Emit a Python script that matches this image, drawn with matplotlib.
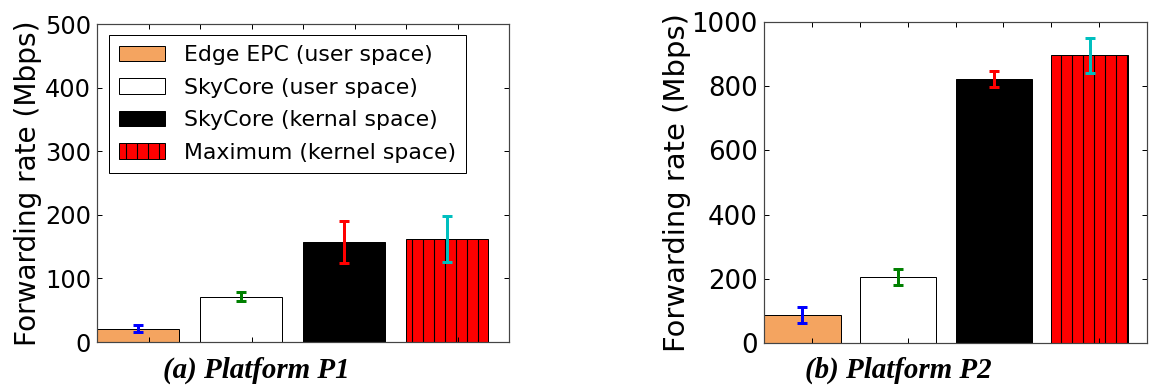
# 라이브러리 및 그래프 환경 설정
import matplotlib
matplotlib.use('Agg')
import matplotlib.pyplot as plt

plt.rcParams['font.family'] = ['DejaVu Sans']
plt.rcParams['hatch.linewidth'] = 1.2

# 데이터 준비
labels = ['Edge EPC (user space)', 'SkyCore (user space)',
          'SkyCore (kernal space)', 'Maximum (kernel space)']
p1_rate = [21, 71, 157, 162]
p1_err = [6, 7, 33, 36]
p2_rate = [88, 206, 822, 896]
p2_err = [25, 26, 26, 55]

bar_colors = ['sandybrown', 'white', 'black', 'red']
bar_hatch = ['', '', '', '|']
err_colors = ['b', 'g', 'r', 'c']
captions = ['(a) Platform P1', '(b) Platform P2']

DPI = 66
px = 72.0 / DPI  # 픽셀 -> 포인트

fig = plt.figure(figsize=(1152 / DPI, 387 / DPI), dpi=DPI)
ax1 = fig.add_axes([97 / 1152, 45 / 387, 412 / 1152, 318 / 387])
ax2 = fig.add_axes([764 / 1152, 44 / 387, 383 / 1152, 321 / 387])


def draw_panel(ax, rate, err, ymax, ystep, tick_size, label_size, lpad):
    for i in range(len(rate)):
        ax.bar(i, rate[i], width=0.8, align='edge', color=bar_colors[i],
               edgecolor='black', linewidth=1.0 * px, hatch=bar_hatch[i],
               label=labels[i])
        ax.errorbar(i + 0.4, rate[i], yerr=err[i], fmt='none',
                    ecolor=err_colors[i], elinewidth=3 * px,
                    capsize=5 * px, capthick=3 * px)
    ax.set_xlim(0, 4)
    ax.set_ylim(0, ymax)
    ax.set_yticks(range(0, ymax + 1, ystep))
    ax.set_xticks([0.5 * k for k in range(1, 8)])
    ax.set_xticklabels([])
    ax.tick_params(direction='in', top=True, right=True, length=5 * px,
                   width=1 * px, labelsize=tick_size * px, pad=6 * px)
    for s in ax.spines.values():
        s.set_color('#444444')
        s.set_linewidth(1.2 * px)
    ax.set_ylabel('Forwarding rate (Mbps)', fontsize=label_size * px,
                  labelpad=lpad * px)


draw_panel(ax1, p1_rate, p1_err, 500, 100, 24, 28, 3)
draw_panel(ax2, p2_rate, p2_err, 1000, 200, 26, 29, 1)

# 범례
leg = ax1.legend(loc='upper left', bbox_to_anchor=(0.029, 0.965),
                 borderaxespad=0, fontsize=22 * px, handlelength=2.1,
                 handleheight=0.7, handletextpad=0.85, labelspacing=0.57,
                 borderpad=0.45, fancybox=False, framealpha=1)
leg.get_frame().set_edgecolor('black')
leg.get_frame().set_linewidth(1.0 * px)

# 부제목
cap_x = [256, 898]
for i in range(2):
    fig.text(cap_x[i] / 1152, 1 - 370 / 387, captions[i], ha='center',
             va='center', fontsize=29 * px, family='Liberation Serif',
             weight='bold', style='italic')

fig.savefig('out.png', dpi=DPI)
